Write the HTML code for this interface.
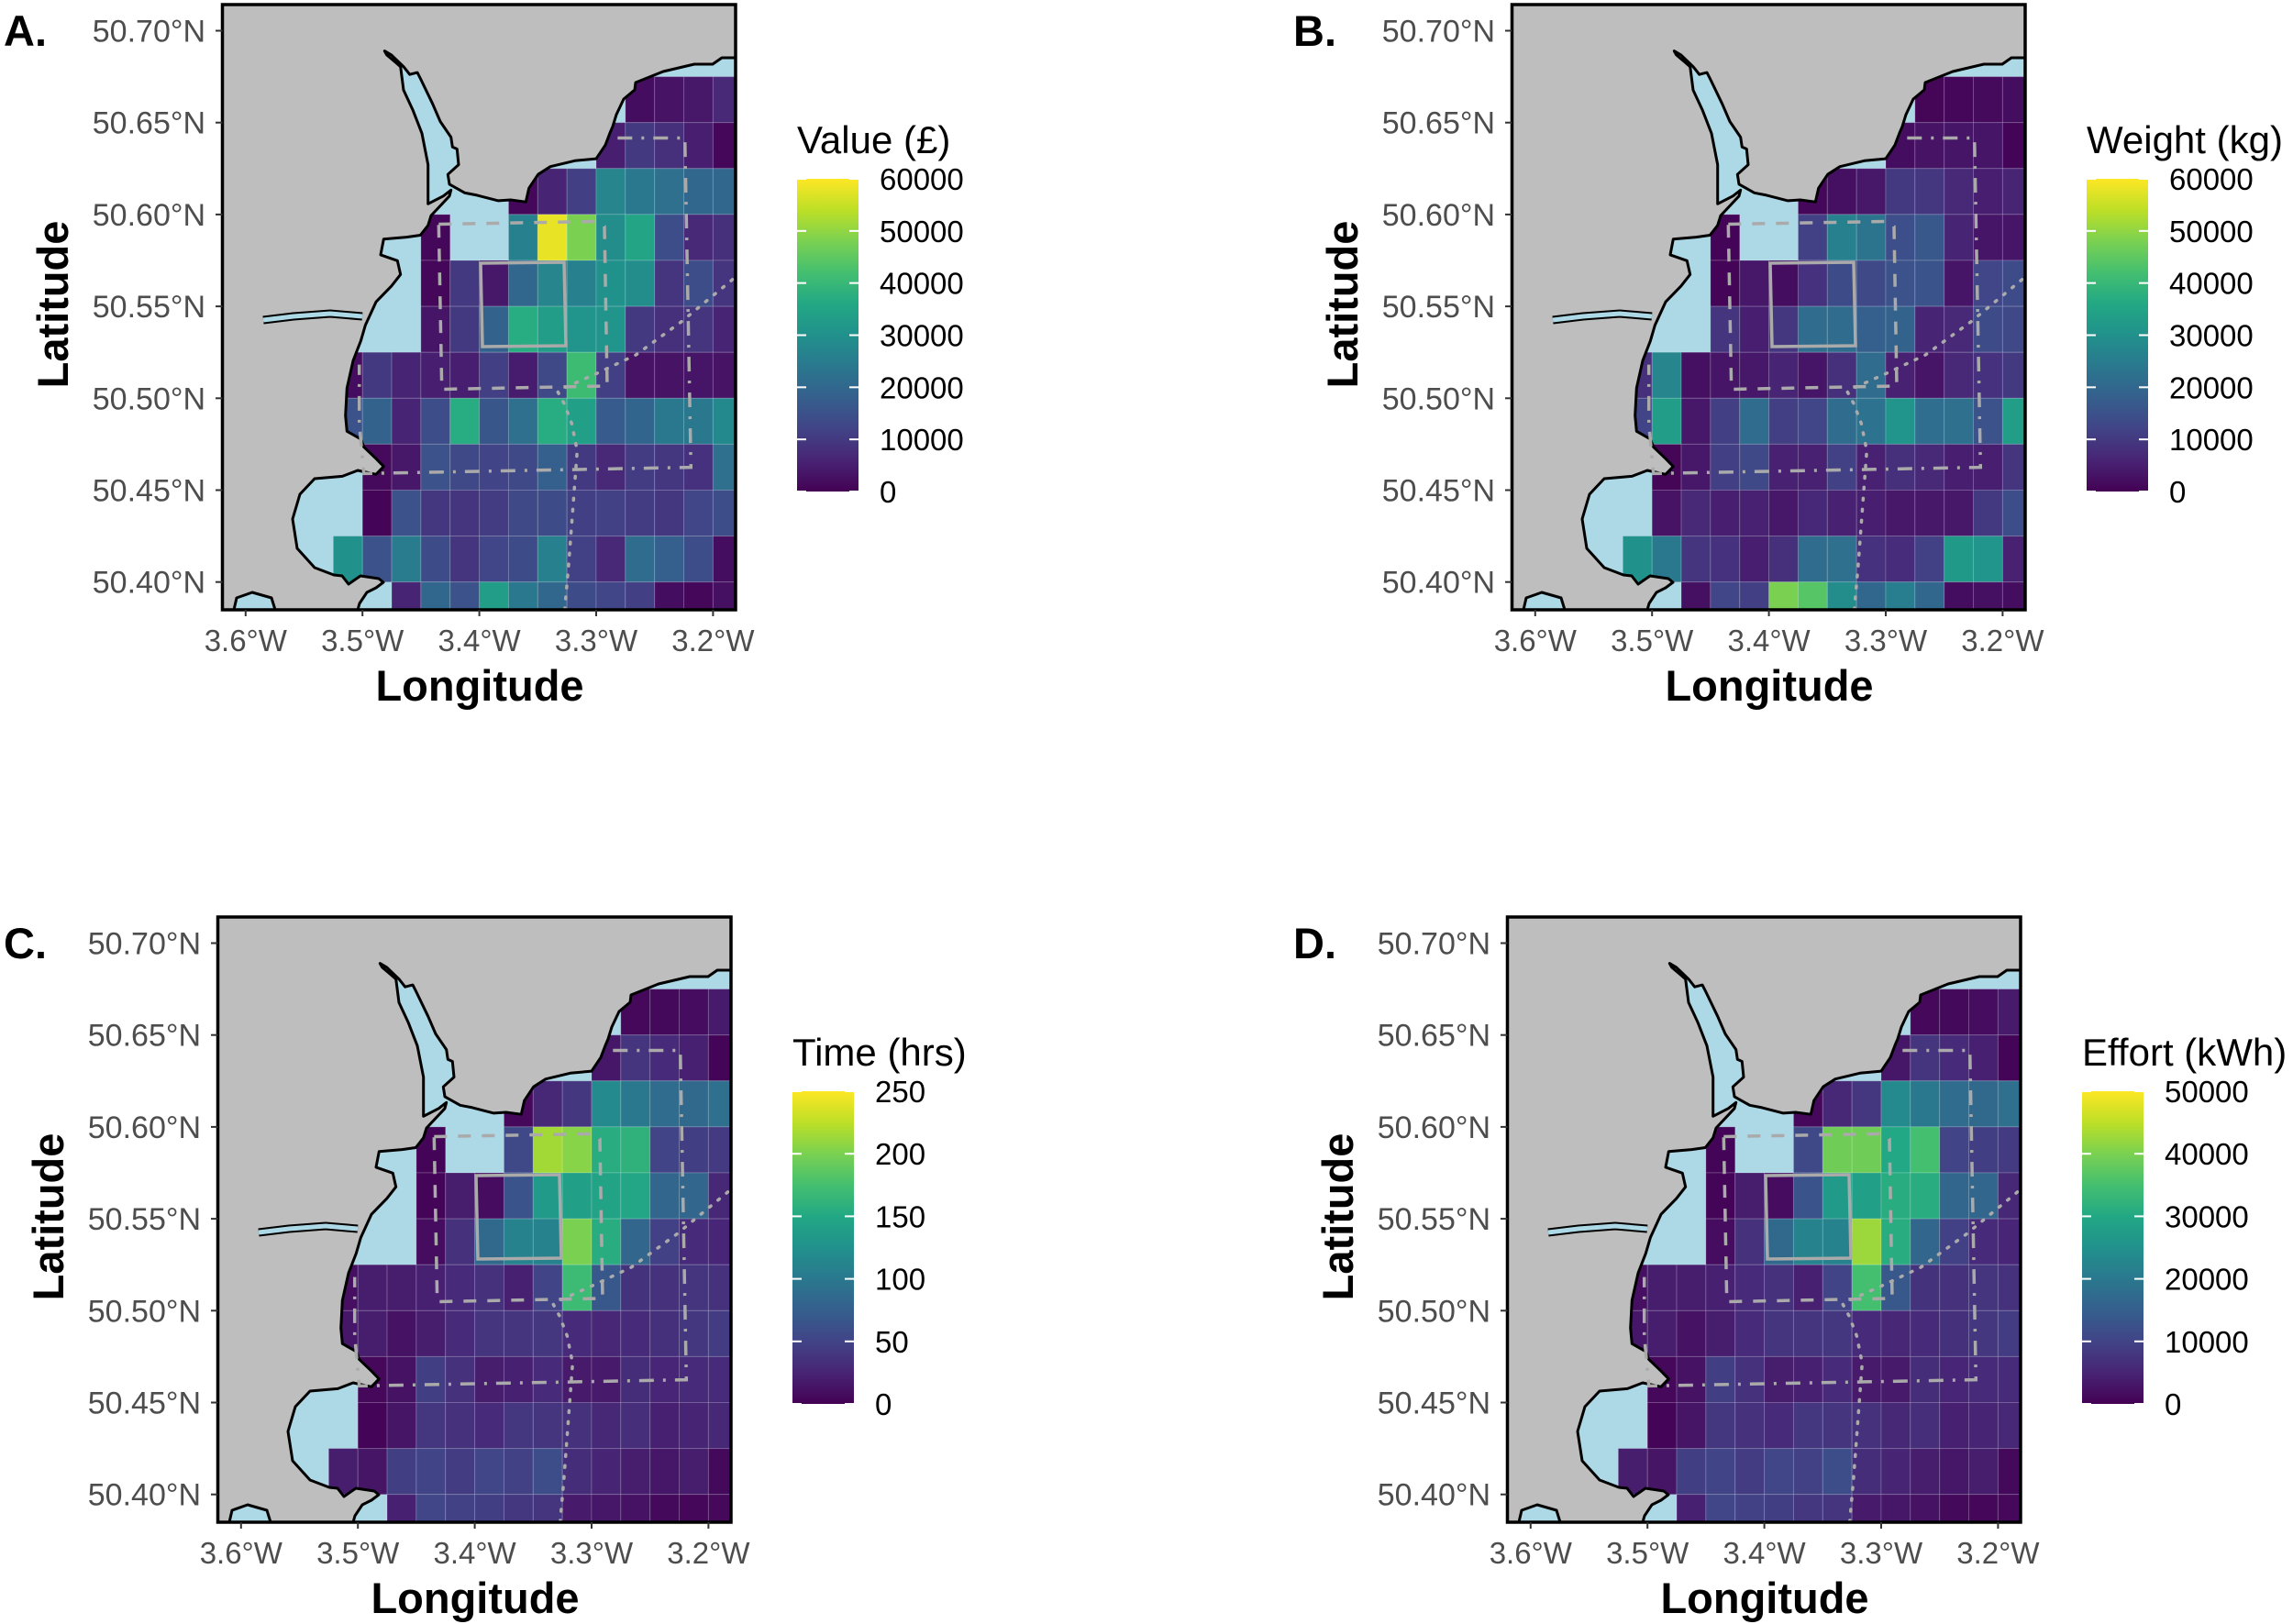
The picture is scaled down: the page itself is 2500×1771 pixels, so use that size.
<!DOCTYPE html>
<html><head><meta charset="utf-8"><style>
html,body{margin:0;padding:0;background:#fff;}
svg{display:block;font-family:"Liberation Sans",Arial,sans-serif;}
</style></head><body>
<svg id="fig" xmlns="http://www.w3.org/2000/svg" width="2500" height="1771" viewBox="0 0 2500 1771"></svg>
<script>
const n = null;
const colLons = [3.525,3.5,3.475,3.45,3.425,3.4,3.375,3.35,3.325,3.3,3.275,3.25,3.225,3.2];
const rowLats = [50.675,50.65,50.625,50.6,50.575,50.55,50.525,50.5,50.475,50.45,50.425,50.4];
const lonTicks = [3.6,3.5,3.4,3.3,3.2];
const lonTickLabels = ["3.6°W","3.5°W","3.4°W","3.3°W","3.2°W"];
const latTicks = [50.40,50.45,50.50,50.55,50.60,50.65,50.70];
const latTickLabels = ["50.40°N","50.45°N","50.50°N","50.55°N","50.60°N","50.65°N","50.70°N"];
const valueGrid = [
[n,n,n,n,n,n,n,n,n,n,2000,3000,4000,7000],
[n,n,n,n,n,n,n,n,n,5000,10000,8000,5000,1000],
[n,n,n,n,n,n,1000,6000,11000,27000,24000,22000,20000,20000],
[n,n,n,1000,n,n,26000,58000,48000,29000,35000,14000,7000,8000],
[n,n,n,1000,10000,4000,20000,27000,26000,30000,29000,9000,14000,9000],
[n,n,n,3500,10000,19000,37000,33000,31000,31000,10000,8000,9000,6000],
[2000,10000,6000,5000,5000,11000,4500,13000,41000,11000,3000,3000,3500,3000],
[15000,19000,6000,14000,37000,16000,22000,37000,34000,17000,19500,24000,24000,28000],
[n,1500,4000,15000,13000,12000,13000,18000,10000,7000,10500,9500,8500,22000],
[n,500,15000,9500,9000,10500,13000,13500,11000,11500,10500,9500,12500,14000],
[30000,15000,25000,13500,9000,12500,13500,26000,11500,7000,21000,18000,14000,2000],
[n,n,6000,20000,15000,33000,24000,20000,13500,12500,11000,2000,1000,2500]];
const weightGrid = [
[n,n,n,n,n,n,n,n,n,n,800,1000,1500,2000],
[n,n,n,n,n,n,n,n,n,2000,3000,3500,3500,500],
[n,n,n,n,n,n,1000,2500,4000,10000,9500,7000,5000,6000],
[n,n,n,500,n,n,11500,26000,23000,14500,16500,6000,3500,3500],
[n,n,n,700,4000,2000,8500,13500,13000,15000,15500,3500,12500,13500],
[n,n,n,9000,5000,9500,21000,21000,18000,19000,6000,7000,13500,13000],
[8000,27000,2500,3500,4000,6000,3500,8000,21000,5500,3500,7000,8500,10000],
[12000,33000,4000,11000,21000,11000,12500,21000,22500,31000,21500,22000,15000,33000],
[n,800,4000,11000,13000,5500,5500,11500,5500,8000,7000,5000,5000,9000],
[n,3000,7000,5000,5500,4000,6500,5500,5000,4000,4000,4000,10000,14000],
[30000,24000,9000,8500,5000,8000,21000,22000,8500,7500,11500,32000,31000,5500],
[n,n,2500,12500,11000,48000,44000,29000,20000,25500,20000,2000,2500,2000]];
const timeGrid = [
[n,n,n,n,n,n,n,n,n,n,5,6,8,18],
[n,n,n,n,n,n,n,n,n,15,38,30,22,3],
[n,n,n,n,n,n,5,28,40,118,100,88,85,92],
[n,n,n,3,n,n,55,215,205,155,160,50,45,42],
[n,n,n,3,20,8,65,135,140,145,148,82,82,28],
[n,n,n,8,35,85,110,110,200,155,82,48,30,26],
[10,20,20,22,30,35,22,50,170,68,36,35,38,35],
[15,20,12,20,30,38,38,40,30,27,30,34,40,44],
[n,5,12,45,35,20,22,30,18,18,32,26,30,30],
[n,2,14,40,35,30,40,38,35,28,33,22,25,28],
[20,14,45,50,44,52,48,58,32,25,20,15,20,6],
[n,n,22,52,48,45,40,38,18,15,12,6,4,5]];
const effortGrid = [
[n,n,n,n,n,n,n,n,n,n,1000,1200,1600,3600],
[n,n,n,n,n,n,n,n,n,3000,7600,6000,4400,600],
[n,n,n,n,n,n,1000,5600,8000,23600,20000,17600,17000,18400],
[n,n,n,600,n,n,11000,39000,39000,30000,35000,10000,9000,8400],
[n,n,n,600,4000,1600,13000,27000,28000,31000,31000,16400,16400,5600],
[n,n,n,1600,7000,17000,22000,22000,42500,31000,16400,9600,6000,5200],
[2000,4000,4000,4400,6000,7000,4400,10000,35000,13600,7200,7000,7600,7000],
[3000,4000,2400,4000,6000,7600,7600,8000,6000,5400,6000,6800,8000,8800],
[n,1000,2400,9000,7000,4000,4400,6000,3600,3600,6400,5200,6000,6000],
[n,400,2800,8000,7000,6000,8000,7600,7000,5600,6600,4400,5000,5600],
[4000,2800,9000,10000,8800,10400,9600,11600,6400,5000,4000,3000,4000,1200],
[n,n,4400,10400,9600,9000,8000,7600,3600,3000,2400,1200,800,1000]];
const valueTicks = [0,10000,20000,30000,40000,50000,60000];
const weightTicks = [0,10000,20000,30000,40000,50000,60000];
const timeTicks = [0,50,100,150,200,250];
const effortTicks = [0,10000,20000,30000,40000,50000];

const VIR = ["#440154","#482475","#414487","#355f8d","#2a788e","#21918c","#22a884","#44bf70","#7ad151","#bddf26","#fde725"];
function hex(h){return [1,3,5].map(i=>parseInt(h.substr(i,2),16));}
function viridis(t){t=Math.max(0,Math.min(1,t));const p=t*10,i=Math.min(9,Math.floor(p)),f=p-i;const a=hex(VIR[i]),b=hex(VIR[i+1]);
return "rgb("+a.map((v,k)=>Math.round(v+(b[k]-v)*f)).join(",")+")";}
const NS="http://www.w3.org/2000/svg";
const svg=document.getElementById('fig');
function el(tag,attrs,parent){const e=document.createElementNS(NS,tag);for(const k in attrs)e.setAttribute(k,attrs[k]);(parent||svg).appendChild(e);return e;}
function pts(arr,dx,dy){return arr.map(p=>(p[0]+dx).toFixed(1)+","+(p[1]+dy).toFixed(1)).join(" ");}

const landPts=[[802,5],[802,63],[787,63],[777,70],[757,70],[723,78],[693,90],[692,98],[680,108],[672,125],[668,138],[665,145],[660,158.2],[650,173.1],[626.7,175.3],[600,181.7],[586.7,190.2],[576.7,205.2],[573.3,220.2],[556.7,218],[543.3,218.9],[520,212.9],[506.7,210.3],[490,200.9],[488.3,190.2],[500,179.6],[498.3,162.5],[493.3,160.3],[491.7,149.6],[480,132.5],[471.7,113.3],[458.3,85.5],[455,79.1],[446.7,81.2],[440,72.7],[426.7,59.9],[419.3,55.6],[421.7,59.9],[431.7,68.4],[436.7,72.7],[440,98.3],[450,119.7],[460,145.4],[466.7,179.6],[466.7,222.3],[483.3,213.8],[491.7,207.3],[490,213.8],[470,235.1],[466.7,245.8],[458.3,256.5],[443.3,258.6],[418.3,260.8],[415,277.9],[433.3,284.3],[436.7,299.3],[426.7,312.1],[410,329.2],[398.3,354.8],[393.3,371.9],[385,393.3],[378.3,423.2],[376.7,453.2],[378.3,470.3],[393.3,478.8],[396.7,487.4],[410,500.2],[418.3,508.7],[410,517.3],[390,513],[373.3,519.4],[343,522],[327,539],[319,566],[324,598],[343,619],[364,627],[373,628],[380,637],[393,628],[413,631],[418,635],[410,641],[400,646],[392,658],[390,665],[300,665],[296,652],[275,646],[258,652],[255,665],[242.5,665],[242.5,5]];

function drawPanel(cfg){
  const dx=cfg.dx,dy=cfg.dy;
  const X=lon=>650-(lon-3.3)*1274+dx;
  const Y=lat=>33.5+(50.70-lat)*2004+dy;
  const g=el('g',{});
  
  
  const cid='clip'+cfg.key;
  const cp=el('clipPath',{id:cid},g);
  el('rect',{x:242.5+dx,y:5+dy,width:559.5,height:660},cp);
  const pl=el('g',{'clip-path':'url(#'+cid+')'},g);
  const sea=el('rect',{x:242.5+dx,y:5+dy,width:559.5,height:660,fill:'#add8e6'},pl);
  
  
  cfg.grid.forEach((row,r)=>row.forEach((v,c)=>{
    if(v===null)return;
    const x0=X(colLons[c]),x1=X(colLons[c]-0.025),y0=Y(rowLats[r]),y1=Y(rowLats[r]-0.025);
    const rc=el('rect',{x:x0,y:y0,width:x1-x0,height:y1-y0,fill:viridis(v/cfg.max),stroke:'rgba(255,255,255,0.18)','stroke-width':1},pl);
    
    
  }));
  const land=el('polygon',{points:pts(landPts,dx,dy),fill:'#bebebe',stroke:'#000','stroke-width':3,'stroke-linejoin':'round'},pl);
  
  
  const riv=[[287,349],[320,345],[360,342],[395,345]];
  el('polyline',{points:pts(riv,dx,dy),fill:'none',stroke:'#000','stroke-width':9},pl);
  const rv=el('polyline',{points:pts(riv,dx,dy),fill:'none',stroke:'#add8e6','stroke-width':5},pl);
  
  
  const gr='#aaaaaa';
  const box=el('polygon',{points:pts([[524,287],[615,286],[617,377],[526,378]],dx,dy),fill:'none',stroke:gr,'stroke-width':3.5},pl);
  
  
  const dash=el('polygon',{points:pts([[478.3,244.5],[650,241.5],[659,247],[662,421],[481.7,424.5]],dx,dy),fill:'none',stroke:gr,'stroke-width':3.5,'stroke-dasharray':'14 12'},pl);
  
  
  const dd=el('polyline',{points:pts([[673.3,150.5],[746.7,150.5],[753.3,509.6],[396.7,516.4],[391.7,461.7],[391.7,397.6]],dx,dy),fill:'none',stroke:gr,'stroke-width':3.5,'stroke-dasharray':'16 10 3 10'},pl);
  
  
  const dot1=el('polyline',{points:pts([[615.7,665],[620,615.6],[629.3,491.6],[623.3,461.7],[615,440],[608.3,427.5]],dx,dy),fill:'none',stroke:gr,'stroke-width':3.5,'stroke-dasharray':'2 10','stroke-linecap':'round'},pl);
  
  
  const dot2=el('polyline',{points:pts([[616.7,422.4],[653.3,406],[693.3,387],[743.3,350.5],[802,302]],dx,dy),fill:'none',stroke:gr,'stroke-width':3.5,'stroke-dasharray':'2 10','stroke-linecap':'round'},pl);
  
  
  const fr=el('rect',{x:242.5+dx,y:5+dy,width:559.5,height:660,fill:'none',stroke:'#000','stroke-width':3.5},g);
  
  
  lonTicks.forEach((t,i)=>{
    const x=X(t);
    el('line',{x1:x,x2:x,y1:665+dy,y2:672+dy,stroke:'#333','stroke-width':2},g);
    const tx=el('text',{x:x,y:710+dy,'text-anchor':'middle','font-size':33,fill:'#4d4d4d'},g);
    tx.textContent=lonTickLabels[i];
    
    
  });
  latTicks.forEach((t,i)=>{
    const y=Y(t);
    el('line',{x1:235+dx,x2:242.5+dx,y1:y,y2:y,stroke:'#333','stroke-width':2},g);
    const tx=el('text',{x:224+dx,y:y+12,'text-anchor':'end','font-size':34,fill:'#4d4d4d'},g);
    tx.textContent=latTickLabels[i];
    
    
  });
  const xt=el('text',{x:523+dx,y:764+dy,'text-anchor':'middle','font-size':47,'font-weight':'bold',fill:'#000'},g);
  xt.textContent='Longitude';
  
  
  const yt=el('text',{x:0,y:0,'text-anchor':'middle','font-size':47,'font-weight':'bold',fill:'#000',transform:'translate('+(74+dx)+','+(332+dy)+') rotate(-90)'},g);
  yt.textContent='Latitude';
  
  
  const lt=el('text',{x:cfg.lx,y:50+dy,'font-size':47,'font-weight':'bold',fill:'#000'},g);
  lt.textContent=cfg.letter;
  
  
  const lgx=869+cfg.lgdx, bt=195+dy, bb=536+dy;
  const ttl=el('text',{x:lgx,y:167+dy,'font-size':42,fill:'#000'},g);
  ttl.textContent=cfg.title;
  
  
  const gid='grad'+cfg.key;
  const lg=el('linearGradient',{id:gid,x1:0,y1:1,x2:0,y2:0},g);
  VIR.forEach((c,i)=>el('stop',{offset:(i/10),'stop-color':c},lg));
  const bar=el('rect',{x:lgx,y:bt,width:67,height:bb-bt,fill:'url(#'+gid+')'},g);
  
  
  cfg.ticks.forEach(t=>{
    const y=bb-(t/cfg.max)*(bb-bt);
    el('line',{x1:lgx,x2:lgx+10,y1:y,y2:y,stroke:'#fff','stroke-width':2},g);
    el('line',{x1:lgx+57,x2:lgx+67,y1:y,y2:y,stroke:'#fff','stroke-width':2},g);
    const tx=el('text',{x:lgx+90,y:y+12,'font-size':33,fill:'#000'},g);
    tx.textContent=String(t);
    
    
  });
}
drawPanel({key:'a',dx:0,dy:0,grid:valueGrid,max:60000,ticks:valueTicks,title:'Value (£)',letter:'A.',lx:4,lgdx:0});
drawPanel({key:'b',dx:1406,dy:0,grid:weightGrid,max:60000,ticks:weightTicks,title:'Weight (kg)',letter:'B.',lx:1410,lgdx:1406});
drawPanel({key:'c',dx:-5,dy:995,grid:timeGrid,max:250,ticks:timeTicks,title:'Time (hrs)',letter:'C.',lx:4,lgdx:-5});
drawPanel({key:'d',dx:1401,dy:995,grid:effortGrid,max:50000,ticks:effortTicks,title:'Effort (kWh)',letter:'D.',lx:1410,lgdx:1401});
</script>
</body></html>
